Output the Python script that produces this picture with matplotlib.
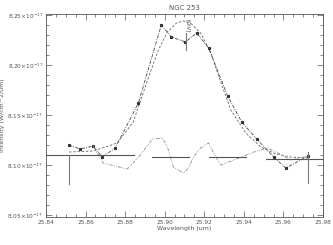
import matplotlib
matplotlib.use("Agg")
import matplotlib.pyplot as plt
from matplotlib.ticker import MultipleLocator, FuncFormatter

# data (intensity in units of 1e-17 W/cm^2/um)
obs_x = [25.8517, 25.8572, 25.8638, 25.8684, 25.8750, 25.8867, 25.8983, 25.9034,
         25.9105, 25.9161, 25.9222, 25.9318, 25.9389, 25.9465, 25.9551, 25.9612, 25.9724]
obs_y = [8.120, 8.116, 8.119, 8.108, 8.117, 8.162, 8.240, 8.228,
         8.223, 8.232, 8.217, 8.169, 8.143, 8.126, 8.108, 8.097, 8.109]

fit_x = [25.8517, 25.8638, 25.8760, 25.8841, 25.8917, 25.8968, 25.9014, 25.9060,
         25.9095, 25.9136, 25.9181, 25.9232, 25.9283, 25.9334, 25.9410, 25.9486,
         25.9562, 25.9638, 25.9724]
fit_y = [8.113, 8.114, 8.122, 8.143, 8.187, 8.215, 8.233, 8.242,
         8.244, 8.241, 8.232, 8.213, 8.183, 8.155, 8.132, 8.118,
         8.111, 8.108, 8.107]

res_x = [25.8638, 25.8689, 25.8750, 25.8811, 25.8877, 25.8938, 25.8988, 25.9014,
         25.9044, 25.9095, 25.9120, 25.9146, 25.9181, 25.9222, 25.9247, 25.9283,
         25.9349, 25.9450, 25.9521, 25.9572, 25.9638, 25.9724]
res_y = [8.119, 8.102, 8.099, 8.096, 8.110, 8.126, 8.127, 8.118,
         8.098, 8.092, 8.097, 8.108, 8.117, 8.122, 8.112, 8.100,
         8.105, 8.113, 8.117, 8.112, 8.105, 8.109]

cont_segments = [((25.8400, 25.8846), 8.110), ((25.8937, 25.9125), 8.108),
                 ((25.9222, 25.9410), 8.108), ((25.9511, 25.9800), 8.106)]

err_x = [25.8517, 25.9110, 25.9724]
err_lo = [8.081, 8.215, 8.082]
err_hi = [8.110, 8.232, 8.113]

xticks = [25.84, 25.86, 25.88, 25.90, 25.92, 25.94, 25.96, 25.98]
yticks = [8.05, 8.10, 8.15, 8.20, 8.25]

fig = plt.figure(figsize=(3.33, 2.45), dpi=100)
ax = fig.add_axes([0.138, 0.114, 0.832, 0.829])

ax.plot(fit_x, fit_y, color="#666666", lw=0.6, ls=(0, (3, 2)))
ax.plot(obs_x, obs_y, color="#444444", lw=0.6, ls=(0, (4, 1.5, 1, 1.5)),
        marker="*", ms=2.0, mec="#333333", mfc="#333333")
ax.plot(res_x, res_y, color="#888888", lw=0.6, ls=(0, (4, 1.5, 1, 1.5, 1, 1.5)))

for (x0, x1), yv in cont_segments:
    ax.plot([x0, x1], [yv, yv], color="#555555", lw=0.8)
for xv, lo, hi in zip(err_x, err_lo, err_hi):
    ax.plot([xv, xv], [lo, hi], color="#777777", lw=0.8)

ax.text(25.9115, 8.239, "[OIV]", rotation=270, fontsize=3.8, color="#555555",
        ha="center", va="center")

ax.set_xlim(25.84, 25.98)
ax.set_ylim(8.048, 8.251)
ax.set_xticks(xticks)
ax.set_yticks(yticks)
ax.xaxis.set_minor_locator(MultipleLocator(0.005))
ax.yaxis.set_minor_locator(MultipleLocator(0.01))
ax.xaxis.set_major_formatter(FuncFormatter(lambda v, p: f"{v:.2f}"))
ax.yaxis.set_major_formatter(FuncFormatter(lambda v, p: f"{v:.2f}$\\times$10$^{{-17}}$"))
ax.tick_params(which="both", direction="in", top=True, right=True,
               labelsize=4.2, colors="#555555", width=0.5, pad=2)
ax.tick_params(which="major", length=4)
ax.tick_params(which="minor", length=2)
for s in ax.spines.values():
    s.set_linewidth(0.6)
    s.set_color("#555555")

ax.set_title("NGC 253", fontsize=5, color="#555555", pad=3)
ax.set_xlabel("Wavelength (um)", fontsize=4.5, color="#555555", labelpad=1)
ax.set_ylabel("Intensity (W/cm^2/um)", fontsize=4.5, color="#555555", labelpad=2)

fig.savefig("out.png", dpi=100)
